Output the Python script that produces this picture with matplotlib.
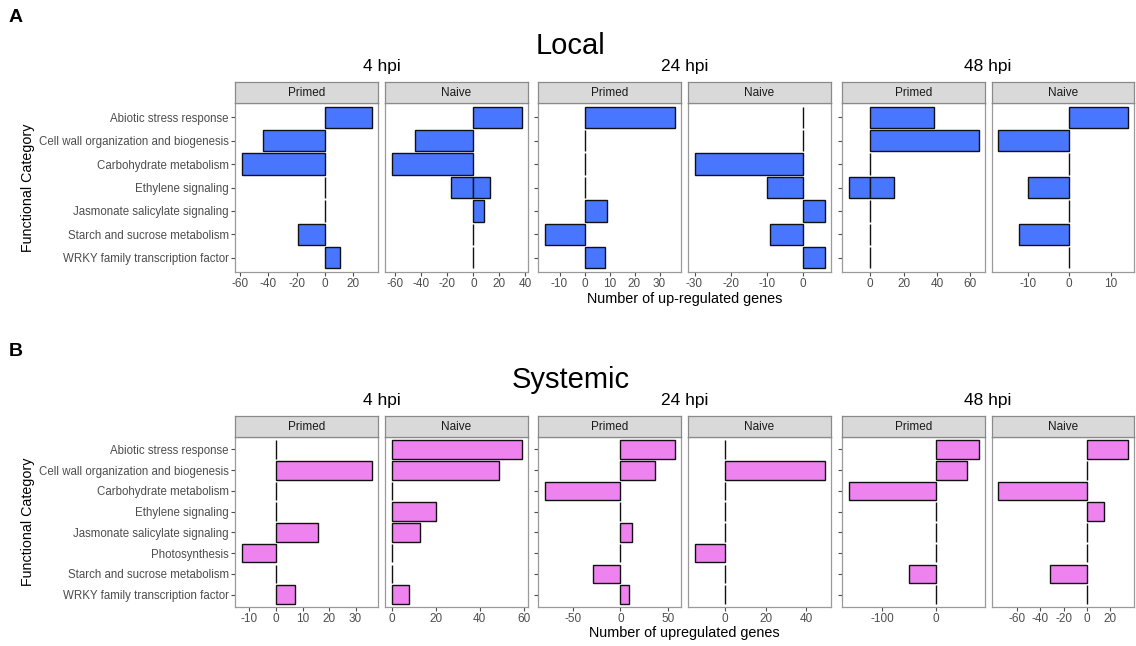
import numpy as np
import matplotlib
matplotlib.use("Agg")
import matplotlib.pyplot as plt

plt.rcParams["font.family"] = ["Liberation Sans", "DejaVu Sans"]

W, H = 1136, 646
DPI = 100

# ---------------- data ----------------
local_categories = [
    "Abiotic stress response",
    "Cell wall organization and biogenesis",
    "Carbohydrate metabolism",
    "Ethylene signaling",
    "Jasmonate salicylate signaling",
    "Starch and sucrose metabolism",
    "WRKY family transcription factor",
]
systemic_categories = [
    "Abiotic stress response",
    "Cell wall organization and biogenesis",
    "Carbohydrate metabolism",
    "Ethylene signaling",
    "Jasmonate salicylate signaling",
    "Photosynthesis",
    "Starch and sucrose metabolism",
    "WRKY family transcription factor",
]
timepoints = ["4 hpi", "24 hpi", "48 hpi"]
conditions = ["Primed", "Naive"]

# Local tissue
local_4hpi_primed = [33, -44, -59, 0, 0, -19, 11]
local_4hpi_naive = [37, -45, -63, 13, 8, 0, 0]
local_4hpi_naive_split = [0, 0, 0, -17, 0, 0, 0]
local_24hpi_primed = [36, 0, 0, 0, 9, -16, 8]
local_24hpi_naive = [0, 0, -30, -10, 6, -9, 6]
local_48hpi_primed = [38, 65, 0, 14, 0, 0, 0]
local_48hpi_primed_split = [0, 0, 0, -13, 0, 0, 0]
local_48hpi_naive = [14, -17, 0, -10, 0, -12, 0]

# Systemic tissue
systemic_4hpi_primed = [0, 36, 0, 0, 16, -13, 0, 7]
systemic_4hpi_naive = [59, 49, 0, 20, 13, 0, 0, 8]
systemic_24hpi_primed = [57, 36, -80, 0, 12, 0, -29, 9]
systemic_24hpi_naive = [0, 49, 0, 0, 0, -15, 0, 0]
systemic_48hpi_primed = [79, 57, -162, 0, 0, 0, -50, 0]
systemic_48hpi_naive = [35, 0, -76, 15, 0, 0, -32, 0]

local_ticks = [
    [-60, -40, -20, 0, 20],
    [-60, -40, -20, 0, 20, 40],
    [-10, 0, 10, 20, 30],
    [-30, -20, -10, 0],
    [0, 20, 40, 60],
    [-10, 0, 10],
]
systemic_ticks = [
    [-10, 0, 10, 20, 30],
    [0, 20, 40, 60],
    [-50, 0, 50],
    [0, 20, 40],
    [-100, 0],
    [-60, -40, -20, 0, 20],
]

# ---------------- layout helpers ----------------
fig = plt.figure(figsize=(W / DPI, H / DPI), dpi=DPI)

def px_axes(left, top, right, bottom):
    return fig.add_axes([left / W, 1 - bottom / H, (right - left) / W, (bottom - top) / H])

def ftext(x, y, s, **kw):
    fig.text(x / W, 1 - y / H, s, **kw)

facet_x = [(235, 378), (385, 528), (538, 681), (688, 831), (842, 985), (992, 1134)]

TICK_COL = "#4D4D4D"
BORDER_COL = "#9A9A9A"
STRIP_COL = "#D9D9D9"
STRIP_EDGE = "#8A8A8A"
EDGE_COL = "#111111"


def draw_row(cats, panels, splits, ticks, color, strip_top, panel_top, panel_bottom,
             title, title_y, hpi_y, xlabel, xlabel_y, letter, letter_y):
    n = len(cats)
    y = np.arange(n)
    for i, (vals, split, tk) in enumerate(zip(panels, splits, ticks)):
        x0, x1 = facet_x[i]
        ax = px_axes(x0, panel_top, x1, panel_bottom)
        ax.barh(y, vals, height=0.9, color=color, edgecolor=EDGE_COL, linewidth=1.0, zorder=2)
        allv = list(vals)
        if split is not None:
            idx = [k for k, v in enumerate(split) if v != 0]
            ax.barh(y[idx], [split[k] for k in idx], height=0.9, color=color,
                    edgecolor=EDGE_COL, linewidth=1.0, zorder=1)
            allv += list(split)
        lo, hi = min(min(allv), 0), max(max(allv), 0)
        pad = 0.05 * (hi - lo)
        ax.set_xlim(lo - pad, hi + pad)
        ax.set_ylim(n - 1 + 0.6, -0.6)
        ax.set_xticks(tk)
        ax.set_xticklabels([str(t) for t in tk])
        ax.tick_params(axis="x", length=3, width=0.8, color=TICK_COL, labelsize=8.5,
                       labelcolor=TICK_COL, pad=1.5)
        if i % 2 == 0:
            ax.set_yticks(y)
            if i == 0:
                ax.set_yticklabels(cats)
            else:
                ax.set_yticklabels([""] * n)
            ax.tick_params(axis="y", length=3, width=0.8, color=TICK_COL, labelsize=8.3,
                           labelcolor=TICK_COL, pad=1.5)
        else:
            ax.set_yticks([])
        for sp in ax.spines.values():
            sp.set_color(BORDER_COL)
            sp.set_linewidth(0.9)
        ax.set_facecolor("white")

        # facet strip
        sax = px_axes(x0, strip_top, x1, panel_top)
        sax.set_facecolor(STRIP_COL)
        sax.set_xticks([])
        sax.set_yticks([])
        for sp in sax.spines.values():
            sp.set_color(STRIP_EDGE)
            sp.set_linewidth(0.9)
        sax.text(0.5, 0.47, conditions[i % 2], ha="center", va="center", fontsize=8.5,
                 color="#1A1A1A", transform=sax.transAxes)

    # timepoint headers
    for g, tp in enumerate(timepoints):
        cx = (facet_x[2 * g][0] + facet_x[2 * g + 1][1]) / 2
        ftext(cx, hpi_y, tp, ha="center", va="center", fontsize=12.5, color="black")

    ftext(571, title_y, title, ha="center", va="center", fontsize=21, color="black")
    ftext(684.5, xlabel_y, xlabel, ha="center", va="center", fontsize=10.4, color="black")
    ftext(28, (panel_top + panel_bottom) / 2, "Functional Category", ha="center",
          va="center", rotation=90, fontsize=10.3, color="black")
    ftext(9, letter_y, letter, ha="left", va="center", fontsize=14, fontweight="bold")


draw_row(local_categories,
         [local_4hpi_primed, local_4hpi_naive, local_24hpi_primed,
          local_24hpi_naive, local_48hpi_primed, local_48hpi_naive],
         [None, local_4hpi_naive_split, None, None, local_48hpi_primed_split, None],
         local_ticks, "#4876FF",
         strip_top=82, panel_top=103, panel_bottom=272,
         title="Local", title_y=46, hpi_y=67,
         xlabel="Number of up-regulated genes", xlabel_y=299,
         letter="A", letter_y=17)

draw_row(systemic_categories,
         [systemic_4hpi_primed, systemic_4hpi_naive, systemic_24hpi_primed,
          systemic_24hpi_naive, systemic_48hpi_primed, systemic_48hpi_naive],
         [None] * 6,
         systemic_ticks, "#EE82EE",
         strip_top=416, panel_top=437, panel_bottom=607,
         title="Systemic", title_y=380, hpi_y=401,
         xlabel="Number of upregulated genes", xlabel_y=633,
         letter="B", letter_y=352)

fig.savefig("out.png", dpi=DPI)
